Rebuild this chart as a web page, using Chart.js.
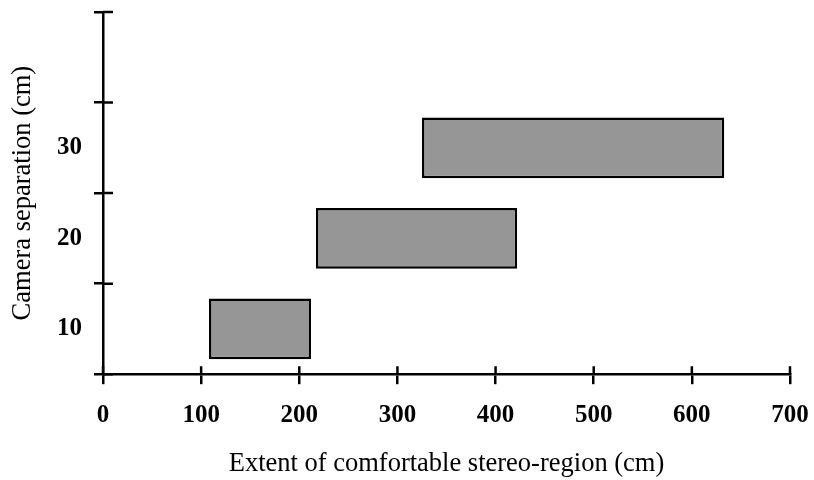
<!DOCTYPE html>
<html>
<head>
<meta charset="utf-8">
<script src="https://cdn.jsdelivr.net/npm/chart.js@4/dist/chart.umd.min.js"></script>
<style>
  html, body { margin: 0; padding: 0; background: #fff; }
  #wrap { width: 814px; height: 480px; }
</style>
</head>
<body>
<div id="wrap"><canvas id="chart"></canvas></div>
<script>
const separations = ["10", "20", "30", ""];
const rangeStart = [108, 217, 325, null];
const rangeEnd = [212, 422, 633, null];
const xTicks = [0, 100, 200, 300, 400, 500, 600, 700];

const SERIF = "'Liberation Serif', 'Times New Roman', serif";

// ticks cross the axis line: draw the inner half too
const innerTicks = {
  id: "innerTicks",
  afterDraw(chart) {
    const { ctx, scales: { x, y } } = chart;
    ctx.save();
    ctx.strokeStyle = "#000";
    ctx.lineWidth = 2.5;
    ctx.beginPath();
    xTicks.forEach(v => {
      const px = x.getPixelForValue(v);
      ctx.moveTo(px, y.bottom);
      ctx.lineTo(px, y.bottom - 8);
    });
    for (let i = 0; i <= separations.length; i++) {
      const py = y.getPixelForValue(i - 0.5);
      ctx.moveTo(x.left, py);
      ctx.lineTo(x.left + 10, py);
    }
    ctx.stroke();
    ctx.restore();
  }
};

new Chart(document.getElementById("chart"), {
  type: "bar",
  data: {
    labels: separations,
    datasets: [{
      data: separations.map((s, i) => rangeStart[i] == null ? null : [rangeStart[i], rangeEnd[i]]),
      backgroundColor: "#969696",
      borderColor: "#000",
      borderWidth: 2.5,
      borderSkipped: false,
      categoryPercentage: 1,
      barPercentage: 0.67,
    }]
  },
  options: {
    indexAxis: "y",
    responsive: true,
    maintainAspectRatio: false,
    animation: false,
    layout: { padding: { top: 12, right: 24, bottom: 0, left: 0 } },
    plugins: { legend: { display: false }, tooltip: { enabled: false } },
    scales: {
      x: {
        type: "linear",
        min: 0,
        max: 700,
        afterBuildTicks: s => { s.ticks = xTicks.map(v => ({ value: v })); },
        afterFit: s => { s.paddingLeft = 0; s.paddingRight = 0; },
        border: { color: "#000", width: 2.5 },
        grid: { drawOnChartArea: false, color: "#000", lineWidth: 2.5, tickLength: 10 },
        ticks: { color: "#000", padding: 16, maxRotation: 0, font: { family: SERIF, size: 25, weight: "bold" } },
        title: { display: true, text: "Extent of comfortable stereo-region (cm)", color: "#000", padding: { top: 2, bottom: 0 }, font: { family: SERIF, size: 26.5 } }
      },
      y: {
        type: "category",
        reverse: true,
        afterFit: s => { s.width = 103; s.paddingTop = 0; s.paddingBottom = 0; },
        border: { color: "#000", width: 2.5 },
        grid: { drawOnChartArea: false, offset: true, color: "#000", lineWidth: 2.5, tickLength: 9 },
        ticks: { color: "#000", padding: 12, font: { family: SERIF, size: 25, weight: "bold" } },
        title: { display: true, text: "Camera separation (cm)", color: "#000", padding: { top: 7, bottom: 0 }, font: { family: SERIF, size: 26.5 } }
      }
    }
  },
  plugins: [innerTicks]
});
</script>
</body>
</html>
